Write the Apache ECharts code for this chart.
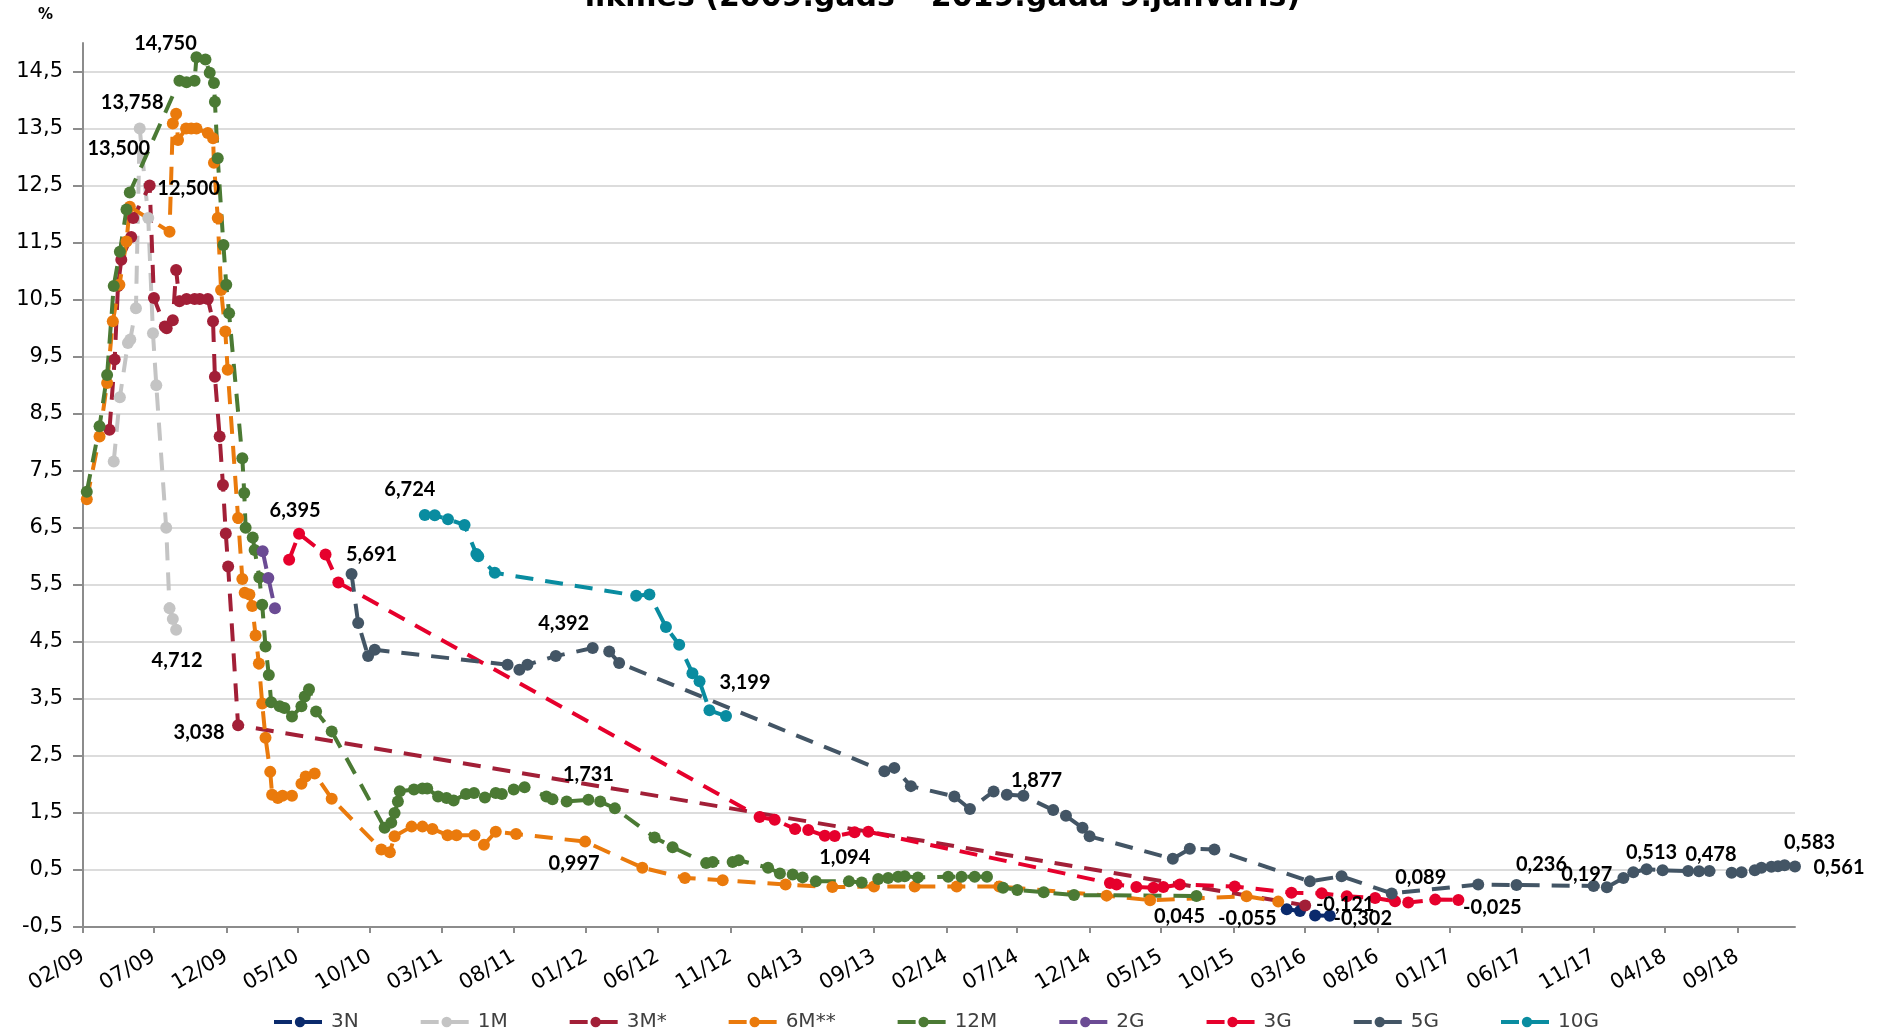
<!DOCTYPE html>
<html>
<head>
<meta charset="utf-8">
<title>Ienesīguma likmes</title>
<script src="https://cdn.jsdelivr.net/npm/echarts@6/dist/echarts.min.js"></script>
<style>
  html, body { margin: 0; padding: 0; background: #fff; }
  #chart { width: 1885px; height: 1035px; }
</style>
</head>
<body>
<div id="chart"></div>
<script>
// axis tick labels
const monthTicks = ['02/09', '07/09', '12/09', '05/10', '10/10', '03/11', '08/11', '01/12', '06/12', '11/12',
  '04/13', '09/13', '02/14', '07/14', '12/14', '05/15', '10/15', '03/16', '08/16', '01/17', '06/17', '11/17',
  '04/18', '09/18'];
const yTicks = [-0.5, 0.5, 1.5, 2.5, 3.5, 4.5, 5.5, 6.5, 7.5, 8.5, 9.5, 10.5, 11.5, 12.5, 13.5, 14.5];

// series values [date, %]
const s3N = [['2016-01-22', -0.19], ['2016-02-19', -0.22], ['2016-03-22', -0.30], ['2016-04-22', -0.302]];

const s1M = [['2009-04-07', 7.66], ['2009-04-20', 8.79], ['2009-05-07', 9.74], ['2009-05-12', 9.80],
  ['2009-05-24', 10.35], ['2009-06-01', 13.5], ['2009-06-19', 11.93], ['2009-06-29', 9.91], ['2009-07-06', 9.0],
  ['2009-07-27', 6.5], ['2009-08-03', 5.09], ['2009-08-10', 4.90], ['2009-08-17', 4.712]];

const s3M = [['2009-03-29', 8.22], ['2009-04-09', 9.45], ['2009-04-16', 10.74], ['2009-04-23', 11.20],
  ['2009-05-14', 11.60], ['2009-05-18', 11.93], ['2009-06-22', 12.5], ['2009-07-01', 10.53], ['2009-07-24', 10.03],
  ['2009-07-28', 10.0], ['2009-08-10', 10.14], ['2009-08-17', 11.02], ['2009-08-24', 10.47], ['2009-09-08', 10.51],
  ['2009-09-25', 10.51], ['2009-10-06', 10.51], ['2009-10-23', 10.51], ['2009-11-03', 10.12], ['2009-11-07', 9.15],
  ['2009-11-17', 8.10], ['2009-11-24', 7.25], ['2009-11-30', 6.40], ['2009-12-05', 5.82], ['2009-12-26', 3.038],
  ['2016-03-01', -0.121]];

const s6M = [['2009-02-09', 7.0], ['2009-03-08', 8.10], ['2009-03-24', 9.04], ['2009-04-05', 10.12],
  ['2009-04-19', 10.76], ['2009-05-04', 11.52], ['2009-05-11', 12.13], ['2009-08-03', 11.69], ['2009-08-10', 13.59],
  ['2009-08-17', 13.758], ['2009-08-21', 13.3], ['2009-09-07', 13.50], ['2009-09-18', 13.50], ['2009-09-29', 13.50],
  ['2009-10-23', 13.42], ['2009-11-03', 13.33], ['2009-11-05', 12.90], ['2009-11-13', 11.93], ['2009-11-20', 10.67],
  ['2009-11-29', 9.94], ['2009-12-04', 9.27], ['2009-12-26', 6.67], ['2010-01-04', 5.60], ['2010-01-09', 5.36],
  ['2010-01-19', 5.33], ['2010-01-25', 5.13], ['2010-02-01', 4.61], ['2010-02-08', 4.12], ['2010-02-15', 3.42],
  ['2010-02-22', 2.82], ['2010-03-04', 2.22], ['2010-03-08', 1.82], ['2010-03-20', 1.76], ['2010-03-30', 1.80],
  ['2010-04-19', 1.80], ['2010-05-09', 2.01], ['2010-05-18', 2.14], ['2010-06-06', 2.19], ['2010-07-12', 1.75],
  ['2010-10-25', 0.86], ['2010-11-12', 0.81], ['2010-11-22', 1.09], ['2010-12-28', 1.26], ['2011-01-20', 1.26],
  ['2011-02-10', 1.22], ['2011-03-14', 1.11], ['2011-04-02', 1.11], ['2011-05-10', 1.11], ['2011-05-30', 0.94],
  ['2011-06-24', 1.17], ['2011-08-06', 1.13], ['2011-12-30', 0.997], ['2012-04-29', 0.54], ['2012-07-28', 0.36],
  ['2012-10-16', 0.32], ['2013-02-26', 0.245], ['2013-06-05', 0.20], ['2013-09-01', 0.21], ['2013-11-26', 0.21],
  ['2014-02-23', 0.21], ['2014-05-24', 0.21], ['2015-01-06', 0.05], ['2015-04-08', -0.03], ['2015-10-29', 0.04],
  ['2016-01-04', -0.055]];

const s12M = [['2009-02-09', 7.13], ['2009-03-08', 8.28], ['2009-03-24', 9.18], ['2009-04-07', 10.74],
  ['2009-04-20', 11.34], ['2009-05-04', 12.08], ['2009-05-11', 12.38], ['2009-08-24', 14.34], ['2009-09-08', 14.31],
  ['2009-09-25', 14.34], ['2009-09-29', 14.75], ['2009-10-18', 14.71], ['2009-10-27', 14.48], ['2009-11-05', 14.30],
  ['2009-11-07', 13.97], ['2009-11-13', 12.98], ['2009-11-25', 11.46], ['2009-12-01', 10.76], ['2009-12-07', 10.26],
  ['2010-01-04', 7.72], ['2010-01-08', 7.11], ['2010-01-11', 6.50], ['2010-01-26', 6.33], ['2010-01-30', 6.11],
  ['2010-02-09', 5.63], ['2010-02-15', 5.15], ['2010-02-22', 4.42], ['2010-03-01', 3.92], ['2010-03-06', 3.44],
  ['2010-03-24', 3.37], ['2010-04-03', 3.34], ['2010-04-19', 3.19], ['2010-05-09', 3.37], ['2010-05-16', 3.54],
  ['2010-05-25', 3.67], ['2010-06-09', 3.28], ['2010-07-12', 2.93], ['2010-11-01', 1.24], ['2010-11-15', 1.33],
  ['2010-11-22', 1.50], ['2010-11-29', 1.70], ['2010-12-03', 1.88], ['2011-01-02', 1.91], ['2011-01-20', 1.93],
  ['2011-01-30', 1.93], ['2011-02-22', 1.79], ['2011-03-12', 1.76], ['2011-03-27', 1.72], ['2011-04-22', 1.83],
  ['2011-05-09', 1.85], ['2011-06-01', 1.77], ['2011-06-24', 1.85], ['2011-07-07', 1.83], ['2011-08-01', 1.91],
  ['2011-08-24', 1.95], ['2011-10-09', 1.79], ['2011-10-22', 1.74], ['2011-11-21', 1.70], ['2012-01-06', 1.731],
  ['2012-01-31', 1.70], ['2012-03-02', 1.58], ['2012-05-25', 1.07], ['2012-07-02', 0.90], ['2012-09-11', 0.62],
  ['2012-09-25', 0.64], ['2012-11-06', 0.64], ['2012-11-19', 0.67], ['2013-01-20', 0.54], ['2013-02-14', 0.44],
  ['2013-03-13', 0.42], ['2013-04-03', 0.37], ['2013-05-01', 0.30], ['2013-07-10', 0.30], ['2013-08-06', 0.28],
  ['2013-09-10', 0.34], ['2013-10-01', 0.36], ['2013-10-22', 0.38], ['2013-11-05', 0.39], ['2013-12-03', 0.37],
  ['2014-02-05', 0.38], ['2014-03-05', 0.38], ['2014-04-02', 0.38], ['2014-04-28', 0.38], ['2014-06-01', 0.19],
  ['2014-07-01', 0.15], ['2014-08-26', 0.11], ['2014-10-29', 0.06], ['2015-07-15', 0.045]];

const s2G = [['2010-02-16', 6.09], ['2010-02-28', 5.62], ['2010-03-14', 5.09]];

const s3G = [['2010-04-13', 5.94], ['2010-05-04', 6.395], ['2010-06-29', 6.03], ['2010-07-26', 5.54],
  ['2013-01-02', 1.43], ['2013-02-03', 1.38], ['2013-03-18', 1.22], ['2013-04-15', 1.20], ['2013-05-20', 1.10],
  ['2013-06-10', 1.094], ['2013-07-22', 1.16], ['2013-08-20', 1.17], ['2015-01-13', 0.27], ['2015-01-27', 0.245],
  ['2015-03-10', 0.20], ['2015-04-15', 0.19], ['2015-05-06', 0.20], ['2015-06-10', 0.245], ['2015-10-04', 0.21],
  ['2016-02-01', 0.10], ['2016-04-05', 0.09], ['2016-05-28', 0.04], ['2016-07-27', 0.01], ['2016-09-07', -0.05],
  ['2016-10-05', -0.07], ['2016-12-01', -0.02], ['2017-01-19', -0.025]];

const s5G = [['2010-08-23', 5.691], ['2010-09-06', 4.83], ['2010-09-27', 4.25], ['2010-10-11', 4.36],
  ['2011-07-19', 4.10], ['2011-08-13', 4.01], ['2011-08-30', 4.10], ['2011-10-29', 4.25], ['2012-01-15', 4.392],
  ['2012-02-19', 4.33], ['2012-03-11', 4.13], ['2013-09-23', 2.23], ['2013-10-14', 2.29], ['2013-11-18', 1.97],
  ['2014-02-18', 1.79], ['2014-03-23', 1.57], ['2014-05-12', 1.877], ['2014-06-09', 1.82], ['2014-07-14', 1.80],
  ['2014-09-15', 1.55], ['2014-10-12', 1.45], ['2014-11-16', 1.24], ['2014-12-01', 1.09], ['2015-05-26', 0.695],
  ['2015-07-01', 0.87], ['2015-08-22', 0.86], ['2016-03-11', 0.30], ['2016-05-17', 0.39], ['2016-08-31', 0.089],
  ['2017-03-02', 0.245], ['2017-05-22', 0.236], ['2017-11-01', 0.22], ['2017-11-29', 0.197], ['2018-01-03', 0.36],
  ['2018-01-24', 0.46], ['2018-02-21', 0.513], ['2018-03-27', 0.495], ['2018-05-20', 0.48], ['2018-06-12', 0.478],
  ['2018-07-04', 0.48], ['2018-08-20', 0.45], ['2018-09-10', 0.46], ['2018-10-08', 0.495], ['2018-10-22', 0.54],
  ['2018-11-12', 0.555], ['2018-11-26', 0.565], ['2018-12-10', 0.583], ['2019-01-01', 0.561]];

const s10G = [['2011-01-25', 6.724], ['2011-02-15', 6.72], ['2011-03-15', 6.65], ['2011-04-19', 6.55],
  ['2011-05-14', 6.04], ['2011-05-18', 6.0], ['2011-06-22', 5.71], ['2012-04-16', 5.31], ['2012-05-14', 5.33],
  ['2012-06-18', 4.76], ['2012-07-16', 4.45], ['2012-08-13', 3.95], ['2012-08-28', 3.81], ['2012-09-18', 3.30],
  ['2012-10-23', 3.199]];

const seriesNames = ['3N', '1M', '3M*', '6M**', '12M', '2G', '3G', '5G', '10G'];
const seriesData = [s3N, s1M, s3M, s6M, s12M, s2G, s3G, s5G, s10G];
const colors = ['#0a2a6c', '#c4c4c4', '#a21f37', '#ea7a0c', '#4b7a34', '#6b4b94', '#e6002c', '#435565', '#098ca0'];

// where each value label sits, as offset from its point
const callouts = {
  '1M': { '2009-06-01': [-21, 20], '2009-08-17': [1, 31] },
  '3M*': { '2009-06-22': [39, 3], '2009-12-26': [-39, 7], '2016-03-01': [40, -1] },
  '6M**': { '2009-08-17': [-44, -11], '2011-12-30': [-11, 22], '2016-01-04': [-31, 17] },
  '12M': { '2009-09-29': [-31, -14], '2012-01-06': [0, -25], '2015-07-15': [-17, 21] },
  '3N': { '2016-04-22': [33, 3] },
  '3G': { '2010-05-04': [-4, -23], '2013-06-10': [10, 21], '2017-01-19': [34, 8] },
  '5G': { '2010-08-23': [20, -19], '2012-01-15': [-29, -24], '2014-05-12': [43, -11], '2016-08-31': [29, -16],
    '2017-05-22': [25, -20], '2017-11-29': [-20, -13], '2018-02-21': [5, -17], '2018-06-12': [12, -17],
    '2018-12-10': [25, -23], '2019-01-01': [44, 1] },
  '10G': { '2011-01-25': [-15, -25], '2012-10-23': [19, -33] }
};

const toTime = s => {
  const [y, m, d] = s.split('-').map(Number);
  return new Date(y, m - 1, d).getTime();
};
const tickTime = lbl => {
  const [m, y] = lbl.split('/').map(Number);
  return new Date(2000 + y, m - 1, 1).getTime();
};
const xTickValues = monthTicks.map(tickTime);
const fmt = v => v.toFixed(3).replace('.', ',');

const chart = echarts.init(document.getElementById('chart'));

const option = {
  backgroundColor: '#ffffff',
  animation: false,
  color: colors,
  title: {
    text: 'likmes (2009.gads – 2019.gada 9.janvāris)',
    left: 'center',
    top: -22,
    textStyle: { fontFamily: 'DejaVu Sans', fontWeight: 'bold', fontSize: 30, color: '#000' }
  },
  graphic: [{
    type: 'text', left: 38, top: 8,
    style: { text: '%', font: 'bold 15px "DejaVu Sans"', fill: '#000' }
  }],
  grid: { left: 83, right: 90, top: 43, bottom: 108 },
  legend: {
    data: seriesNames,
    left: 267,
    top: 1007,
    itemWidth: 52,
    itemHeight: 13,
    itemGap: 60,
    lineStyle: { width: 4 },
    textStyle: { fontFamily: 'DejaVu Sans', fontSize: 20, color: '#404040' }
  },
  xAxis: {
    type: 'value',
    min: toTime('2009-02-01'),
    max: toTime('2019-01-01'),
    axisLine: { onZero: false, lineStyle: { color: '#8c8c8c', width: 2 } },
    axisTick: { show: true, length: 6, customValues: xTickValues, lineStyle: { color: '#8c8c8c', width: 2 } },
    axisLabel: {
      customValues: xTickValues,
      rotate: 30,
      margin: 28,
      fontFamily: 'DejaVu Sans',
      fontSize: 21,
      color: '#000',
      formatter: v => monthTicks[xTickValues.indexOf(v)] || ''
    },
    splitLine: { show: false }
  },
  yAxis: {
    type: 'value',
    min: -0.5,
    max: 15,
    axisLine: { show: true, lineStyle: { color: '#8c8c8c', width: 2 } },
    axisTick: { show: true, length: 10, customValues: yTicks, lineStyle: { color: '#8c8c8c', width: 2 } },
    axisLabel: {
      customValues: yTicks,
      margin: 20,
      fontFamily: 'DejaVu Sans',
      fontSize: 21,
      color: '#000',
      formatter: v => String(v).replace('.', ',')
    },
    splitLine: { show: true, lineStyle: { color: '#dcdcdc', width: 2 } }
  },
  series: seriesNames.map((name, k) => ({
    name,
    type: 'line',
    data: seriesData[k].map(([d, v]) => {
      const off = callouts[name] && callouts[name][d];
      const pt = [toTime(d), v];
      return off ? { value: pt, label: { show: true, offset: off } } : pt;
    }),
    showAllSymbol: true,
    symbol: 'circle',
    symbolSize: 12,
    lineStyle: { width: 4, type: [18, 12] },
    label: {
      show: false,
      position: 'inside',
      formatter: p => fmt(p.value[1]),
      color: '#000',
      fontFamily: 'Lato',
      fontWeight: 'bold',
      fontSize: 20
    },
    emphasis: { disabled: true }
  }))
};

chart.setOption(option);
</script>
</body>
</html>
